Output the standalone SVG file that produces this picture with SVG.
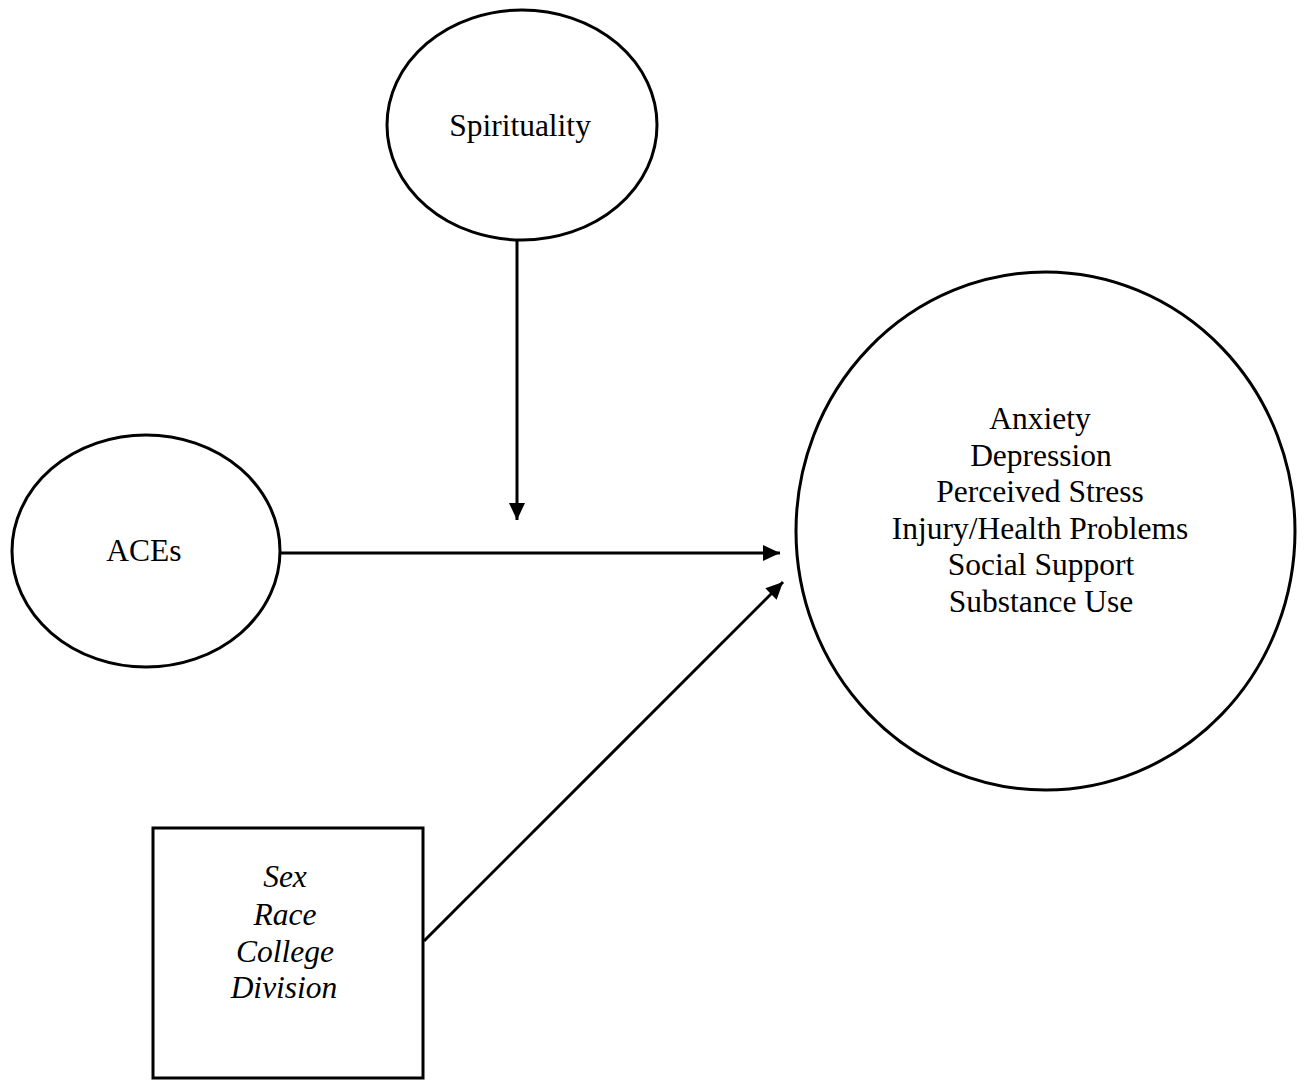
<svg xmlns="http://www.w3.org/2000/svg" width="1308" height="1080" viewBox="0 0 1308 1080">
<defs>
<style>
.shape{fill:#fff;stroke:#000;stroke-width:3}
.edge{fill:none;stroke:#000;stroke-width:3}
.lbl{font-family:"Liberation Serif","Times New Roman",serif;font-size:31.5px;fill:#000;text-anchor:middle}
.it{font-style:italic}
</style>
<marker id="arr" markerUnits="userSpaceOnUse" markerWidth="17" markerHeight="16" refX="17" refY="8" orient="auto">
<path d="M0,0 L17,8 L0,16 z" fill="#000"/>
</marker>
</defs>
<rect width="1308" height="1080" fill="#fff"/>
<g id="connectors">
<line class="edge" x1="517" y1="241" x2="517" y2="520" marker-end="url(#arr)"/>
<line class="edge" x1="280" y1="553" x2="780" y2="553" marker-end="url(#arr)"/>
<line class="edge" x1="424" y1="941" x2="783" y2="582" marker-end="url(#arr)"/>
</g>
<g id="spirituality">
<ellipse class="shape" cx="522" cy="125" rx="135" ry="115"/>
<text class="lbl" x="520" y="136">Spirituality</text>
</g>
<g id="aces">
<ellipse class="shape" cx="146" cy="551" rx="134" ry="116"/>
<text class="lbl" x="144" y="561">ACEs</text>
</g>
<g id="outcomes">
<ellipse class="shape" cx="1045.5" cy="531" rx="249.5" ry="259"/>
<text class="lbl" x="1040" y="429">Anxiety</text>
<text class="lbl" x="1041" y="465.6">Depression</text>
<text class="lbl" x="1040" y="502.2">Perceived Stress</text>
<text class="lbl" x="1040" y="538.8">Injury/Health Problems</text>
<text class="lbl" x="1041" y="575.4">Social Support</text>
<text class="lbl" x="1041" y="612">Substance Use</text>
</g>
<g id="covariates">
<rect class="shape" x="153" y="828" width="270" height="250"/>
<text class="lbl it" x="285" y="887">Sex</text>
<text class="lbl it" x="285" y="925">Race</text>
<text class="lbl it" x="285" y="962">College</text>
<text class="lbl it" x="284" y="998">Division</text>
</g>
</svg>
